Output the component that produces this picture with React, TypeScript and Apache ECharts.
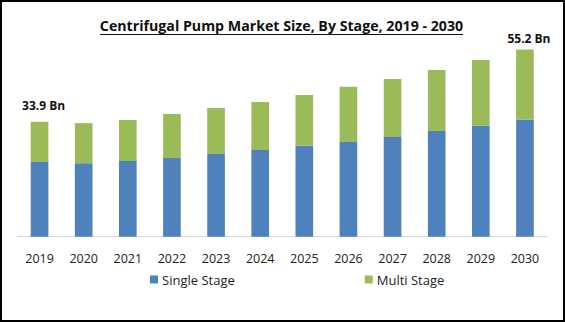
import React, { useEffect, useRef } from "react";
import * as echarts from "echarts";

const years = ["2019", "2020", "2021", "2022", "2023", "2024", "2025", "2026", "2027", "2028", "2029", "2030"];
const singleStage = [22.0, 21.7, 22.3, 23.2, 24.4, 25.6, 26.8, 27.9, 29.4, 31.2, 32.7, 34.6];
const multiStage = [11.9, 11.8, 12.1, 13.0, 13.6, 14.1, 15.0, 16.3, 17.1, 18.0, 19.4, 20.6];
const totalLabels: Record<number, string> = { 0: "33.9 Bn", 11: "55.2 Bn" };

const FONT = "'Open Sans', sans-serif";

export default function App() {
  const ref = useRef<HTMLDivElement>(null);
  useEffect(() => {
    if (!ref.current) return;
    const chart = echarts.init(ref.current, null, { renderer: "svg" });
    const multiData = multiStage.map((v, i) => {
      if (totalLabels[i] !== undefined) {
        return {
          value: v,
          label: {
            show: true,
            position: "top",
            distance: i === 0 ? 10 : 5,
            offset: [4, 0],
            formatter: totalLabels[i],
            fontFamily: FONT,
            fontWeight: "bold",
            fontSize: 12,
            color: "#111",
          },
        };
      }
      return v;
    });
    chart.setOption({
      animation: false,
      backgroundColor: "#fff",
      grid: { left: 17.5, right: 18, top: 33.3, bottom: 85.3 },
      xAxis: {
        type: "category",
        data: years,
        axisLine: { lineStyle: { color: "#D9D9D9", width: 1 } },
        axisTick: { show: false },
        axisLabel: { color: "#222", fontFamily: FONT, fontSize: 12.5, margin: 15 },
      },
      yAxis: { type: "value", min: 0, max: 60, show: false, splitLine: { show: false } },
      legend: {
        data: ["Single Stage", "Multi Stage"],
        left: 145,
        top: 268,
        icon: "rect",
        itemWidth: 8,
        itemHeight: 8,
        itemGap: 130,
        textStyle: { fontFamily: FONT, fontSize: 13, color: "#222", padding: [0, 0, 0, -1] },
      },
      series: [
        {
          name: "Single Stage",
          type: "bar",
          stack: "total",
          barWidth: "40%",
          data: singleStage,
          itemStyle: { color: "#4F81BD" },
        },
        {
          name: "Multi Stage",
          type: "bar",
          stack: "total",
          barWidth: "40%",
          data: multiData,
          itemStyle: { color: "#9BBB59" },
        },
      ],
      graphic: [
        {
          type: "rect",
          shape: { x: 1, y: 1, width: 563, height: 320 },
          style: { fill: "none", stroke: "#000", lineWidth: 2 },
          silent: true,
        },
        {
          type: "text",
          x: 281.5,
          y: 18.5,
          style: {
            text: "Centrifugal Pump Market Size, By Stage, 2019 - 2030",
            fontFamily: FONT,
            fontWeight: "bold",
            fontSize: 14.2,
            fill: "#111",
            align: "center",
            verticalAlign: "top",
          },
        },
        {
          type: "line",
          shape: { x1: 100, y1: 34.5, x2: 463, y2: 34.5 },
          style: { stroke: "#111", lineWidth: 1 },
        },
      ],
    });
    return () => chart.dispose();
  }, []);
  return (
    <div
      ref={ref}
      style={{ position: "fixed", left: 0, top: 0, width: 565, height: 322 }}
    />
  );
}
